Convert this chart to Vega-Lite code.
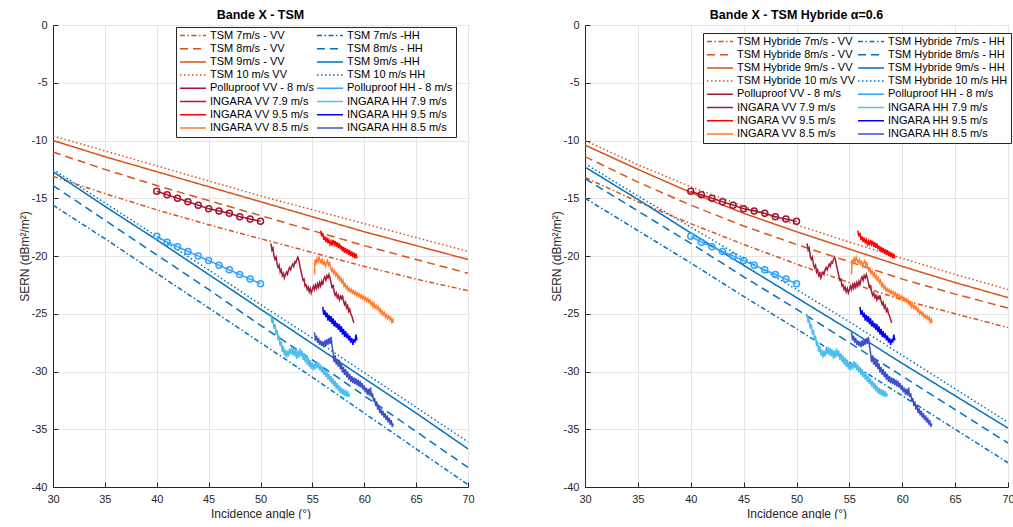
{
  "$schema": "https://vega.github.io/schema/vega-lite/v6.json",
  "background": "white",
  "padding": {"left": 18, "top": 8, "right": 0, "bottom": 0},
  "spacing": 117,
  "bounds": "flush",
  "config": {
    "view": {"stroke": null},
    "font": "Liberation Sans",
    "axis": {"labelFont": "Liberation Sans", "titleFont": "Liberation Sans", "labelFontSize": 11, "titleFontSize": 12, "titleFontWeight": "normal", "labelColor": "#262626", "titleColor": "#262626", "domainColor": "#262626", "tickColor": "#262626", "gridColor": "#E5E5E5", "gridWidth": 1, "tickSize": -5, "domainWidth": 1, "labelExpr": "toString(datum.value)"},
    "axisX": {"labelPadding": 11, "titlePadding": 4, "labelFlush": false},
    "axisY": {"labelPadding": 11, "titleX": -22, "titleY": 231, "titleAngle": -90, "titleBaseline": "bottom"},
    "title": {"font": "Liberation Sans", "fontSize": 12.5, "fontWeight": "bold", "color": "#000000", "offset": -2, "anchor": "middle"},
    "legend": {"labelFont": "Liberation Sans", "labelFontSize": 11, "labelColor": "#000000", "symbolSize": 676, "symbolStrokeWidth": 1.5, "clipHeight": 11, "rowPadding": 1.2, "columnPadding": 2, "padding": 3, "fillColor": "white", "strokeColor": "#262626", "labelOffset": 3}
  },
  "resolve": {"scale": {"color": "independent", "strokeDash": "independent"}, "legend": {"color": "independent", "strokeDash": "independent"}},
  "datasets": {
    "names": [
      {"k": "T7V", "s": "TSM 7m/s - VV"}, {"k": "T7H", "s": "TSM 7m/s -HH"},
      {"k": "T8V", "s": "TSM 8m/s - VV"}, {"k": "T8H", "s": "TSM 8m/s - HH"},
      {"k": "T9V", "s": "TSM 9m/s - VV"}, {"k": "T9H", "s": "TSM 9m/s -HH"},
      {"k": "T10V", "s": "TSM 10 m/s VV"}, {"k": "T10H", "s": "TSM 10 m/s HH"},
      {"k": "H7V", "s": "TSM Hybride 7m/s - VV"}, {"k": "H7H", "s": "TSM Hybride 7m/s - HH"},
      {"k": "H8V", "s": "TSM Hybride 8m/s - VV"}, {"k": "H8H", "s": "TSM Hybride 8m/s - HH"},
      {"k": "H9V", "s": "TSM Hybride 9m/s - VV"}, {"k": "H9H", "s": "TSM Hybride 9m/s - HH"},
      {"k": "H10V", "s": "TSM Hybride 10 m/s VV"}, {"k": "H10H", "s": "TSM Hybride 10 m/s HH"},
      {"k": "PV", "s": "Polluproof VV - 8 m/s"}, {"k": "PH", "s": "Polluproof HH - 8 m/s"},
      {"k": "IV79", "s": "INGARA VV 7.9 m/s"}, {"k": "IH79", "s": "INGARA HH 7.9 m/s"},
      {"k": "IV95", "s": "INGARA VV 9.5 m/s"}, {"k": "IH95", "s": "INGARA HH 9.5 m/s"},
      {"k": "IV85", "s": "INGARA VV 8.5 m/s"}, {"k": "IH85", "s": "INGARA HH 8.5 m/s"}
    ],
    "tsm": [
      {"k":"T7V","x":30,"y":-13.1},{"k":"T7V","x":35,"y":-14.6},{"k":"T7V","x":40,"y":-16.0},{"k":"T7V","x":45,"y":-17.3},{"k":"T7V","x":50,"y":-18.5},{"k":"T7V","x":55,"y":-19.7},{"k":"T7V","x":60,"y":-20.9},{"k":"T7V","x":65,"y":-22.0},{"k":"T7V","x":70,"y":-23.0},
      {"k":"T8V","x":30,"y":-11.0},{"k":"T8V","x":35,"y":-12.5},{"k":"T8V","x":40,"y":-13.9},{"k":"T8V","x":45,"y":-15.2},{"k":"T8V","x":50,"y":-16.5},{"k":"T8V","x":55,"y":-17.8},{"k":"T8V","x":60,"y":-19.1},{"k":"T8V","x":65,"y":-20.3},{"k":"T8V","x":70,"y":-21.5},
      {"k":"T9V","x":30,"y":-10.0},{"k":"T9V","x":35,"y":-11.4},{"k":"T9V","x":40,"y":-12.7},{"k":"T9V","x":45,"y":-14.0},{"k":"T9V","x":50,"y":-15.3},{"k":"T9V","x":55,"y":-16.6},{"k":"T9V","x":60,"y":-17.9},{"k":"T9V","x":65,"y":-19.1},{"k":"T9V","x":70,"y":-20.3},
      {"k":"T10V","x":30,"y":-9.6},{"k":"T10V","x":35,"y":-10.9},{"k":"T10V","x":40,"y":-12.2},{"k":"T10V","x":45,"y":-13.5},{"k":"T10V","x":50,"y":-14.8},{"k":"T10V","x":55,"y":-16.0},{"k":"T10V","x":60,"y":-17.2},{"k":"T10V","x":65,"y":-18.4},{"k":"T10V","x":70,"y":-19.6},
      {"k":"T7H","x":30,"y":-15.6},{"k":"T7H","x":35,"y":-18.5},{"k":"T7H","x":40,"y":-21.5},{"k":"T7H","x":45,"y":-24.5},{"k":"T7H","x":50,"y":-27.5},{"k":"T7H","x":55,"y":-30.5},{"k":"T7H","x":60,"y":-33.6},{"k":"T7H","x":65,"y":-36.7},{"k":"T7H","x":70,"y":-39.8},
      {"k":"T8H","x":30,"y":-13.9},{"k":"T8H","x":35,"y":-16.9},{"k":"T8H","x":40,"y":-19.9},{"k":"T8H","x":45,"y":-22.9},{"k":"T8H","x":50,"y":-26.0},{"k":"T8H","x":55,"y":-29.0},{"k":"T8H","x":60,"y":-32.1},{"k":"T8H","x":65,"y":-35.2},{"k":"T8H","x":70,"y":-38.3},
      {"k":"T9H","x":30,"y":-12.7},{"k":"T9H","x":35,"y":-15.7},{"k":"T9H","x":40,"y":-18.6},{"k":"T9H","x":45,"y":-21.6},{"k":"T9H","x":50,"y":-24.6},{"k":"T9H","x":55,"y":-27.6},{"k":"T9H","x":60,"y":-30.6},{"k":"T9H","x":65,"y":-33.6},{"k":"T9H","x":70,"y":-36.7},
      {"k":"T10H","x":30,"y":-12.5},{"k":"T10H","x":35,"y":-15.4},{"k":"T10H","x":40,"y":-18.3},{"k":"T10H","x":45,"y":-21.2},{"k":"T10H","x":50,"y":-24.2},{"k":"T10H","x":55,"y":-27.1},{"k":"T10H","x":60,"y":-30.1},{"k":"T10H","x":65,"y":-33.1},{"k":"T10H","x":70,"y":-36.1}
    ],
    "hyb": [
      {"k":"H7V","x":30,"y":-13.2},{"k":"H7V","x":35,"y":-15.3},{"k":"H7V","x":40,"y":-17.2},{"k":"H7V","x":45,"y":-19.0},{"k":"H7V","x":50,"y":-20.7},{"k":"H7V","x":55,"y":-22.3},{"k":"H7V","x":60,"y":-23.8},{"k":"H7V","x":65,"y":-25.0},{"k":"H7V","x":70,"y":-26.2},
      {"k":"H8V","x":30,"y":-11.4},{"k":"H8V","x":35,"y":-13.6},{"k":"H8V","x":40,"y":-15.6},{"k":"H8V","x":45,"y":-17.4},{"k":"H8V","x":50,"y":-19.0},{"k":"H8V","x":55,"y":-20.5},{"k":"H8V","x":60,"y":-22.0},{"k":"H8V","x":65,"y":-23.3},{"k":"H8V","x":70,"y":-24.5},
      {"k":"H9V","x":30,"y":-10.4},{"k":"H9V","x":35,"y":-12.5},{"k":"H9V","x":40,"y":-14.5},{"k":"H9V","x":45,"y":-16.3},{"k":"H9V","x":50,"y":-17.9},{"k":"H9V","x":55,"y":-19.4},{"k":"H9V","x":60,"y":-20.9},{"k":"H9V","x":65,"y":-22.3},{"k":"H9V","x":70,"y":-23.6},
      {"k":"H10V","x":30,"y":-10.0},{"k":"H10V","x":35,"y":-12.1},{"k":"H10V","x":40,"y":-14.0},{"k":"H10V","x":45,"y":-15.7},{"k":"H10V","x":50,"y":-17.3},{"k":"H10V","x":55,"y":-18.8},{"k":"H10V","x":60,"y":-20.2},{"k":"H10V","x":65,"y":-21.6},{"k":"H10V","x":70,"y":-22.9},
      {"k":"H7H","x":30,"y":-15.0},{"k":"H7H","x":35,"y":-17.8},{"k":"H7H","x":40,"y":-20.6},{"k":"H7H","x":45,"y":-23.5},{"k":"H7H","x":50,"y":-26.3},{"k":"H7H","x":55,"y":-29.2},{"k":"H7H","x":60,"y":-32.1},{"k":"H7H","x":65,"y":-35.0},{"k":"H7H","x":70,"y":-37.9},
      {"k":"H8H","x":30,"y":-13.3},{"k":"H8H","x":35,"y":-16.1},{"k":"H8H","x":40,"y":-18.9},{"k":"H8H","x":45,"y":-21.8},{"k":"H8H","x":50,"y":-24.6},{"k":"H8H","x":55,"y":-27.5},{"k":"H8H","x":60,"y":-30.4},{"k":"H8H","x":65,"y":-33.3},{"k":"H8H","x":70,"y":-36.2},
      {"k":"H9H","x":30,"y":-12.3},{"k":"H9H","x":35,"y":-15.1},{"k":"H9H","x":40,"y":-18.0},{"k":"H9H","x":45,"y":-20.8},{"k":"H9H","x":50,"y":-23.6},{"k":"H9H","x":55,"y":-26.4},{"k":"H9H","x":60,"y":-29.3},{"k":"H9H","x":65,"y":-32.1},{"k":"H9H","x":70,"y":-34.9},
      {"k":"H10H","x":30,"y":-12.0},{"k":"H10H","x":35,"y":-14.8},{"k":"H10H","x":40,"y":-17.5},{"k":"H10H","x":45,"y":-20.2},{"k":"H10H","x":50,"y":-22.9},{"k":"H10H","x":55,"y":-25.7},{"k":"H10H","x":60,"y":-28.6},{"k":"H10H","x":65,"y":-31.5},{"k":"H10H","x":70,"y":-34.4}
    ],
    "exp": [
      {"k":"PV","x":40,"y":-14.4},{"k":"PV","x":41,"y":-14.7},{"k":"PV","x":42,"y":-15.0},{"k":"PV","x":43,"y":-15.3},{"k":"PV","x":44,"y":-15.6},{"k":"PV","x":45,"y":-15.9},{"k":"PV","x":46,"y":-16.1},{"k":"PV","x":47,"y":-16.3},{"k":"PV","x":48,"y":-16.6},{"k":"PV","x":49,"y":-16.8},{"k":"PV","x":50,"y":-17.0},
      {"k":"PH","x":40,"y":-18.3},{"k":"PH","x":41,"y":-18.8},{"k":"PH","x":42,"y":-19.2},{"k":"PH","x":43,"y":-19.6},{"k":"PH","x":44,"y":-20.0},{"k":"PH","x":45,"y":-20.4},{"k":"PH","x":46,"y":-20.8},{"k":"PH","x":47,"y":-21.2},{"k":"PH","x":48,"y":-21.6},{"k":"PH","x":49,"y":-22.0},{"k":"PH","x":50,"y":-22.4},
      {"k":"IV79","x":51.0,"y":-18.9},{"k":"IV79","x":51.1,"y":-19.5},{"k":"IV79","x":51.2,"y":-19.3},{"k":"IV79","x":51.3,"y":-20.0},{"k":"IV79","x":51.4,"y":-20.3},{"k":"IV79","x":51.5,"y":-20.1},{"k":"IV79","x":51.6,"y":-20.7},{"k":"IV79","x":51.7,"y":-21.0},{"k":"IV79","x":51.8,"y":-20.8},{"k":"IV79","x":51.9,"y":-21.4},{"k":"IV79","x":52.0,"y":-21.2},{"k":"IV79","x":52.1,"y":-21.7},{"k":"IV79","x":52.2,"y":-21.5},{"k":"IV79","x":52.3,"y":-21.9},{"k":"IV79","x":52.4,"y":-21.6},{"k":"IV79","x":52.5,"y":-21.4},{"k":"IV79","x":52.6,"y":-21.6},{"k":"IV79","x":52.7,"y":-21.2},{"k":"IV79","x":52.8,"y":-21.0},{"k":"IV79","x":52.9,"y":-21.2},{"k":"IV79","x":53.0,"y":-20.9},{"k":"IV79","x":53.1,"y":-20.7},{"k":"IV79","x":53.2,"y":-20.9},{"k":"IV79","x":53.3,"y":-20.5},{"k":"IV79","x":53.4,"y":-20.6},{"k":"IV79","x":53.5,"y":-20.3},{"k":"IV79","x":53.6,"y":-20.1},{"k":"IV79","x":53.7,"y":-20.4},{"k":"IV79","x":53.8,"y":-20.9},{"k":"IV79","x":53.9,"y":-21.3},{"k":"IV79","x":54.0,"y":-21.7},{"k":"IV79","x":54.1,"y":-22.1},{"k":"IV79","x":54.2,"y":-22.0},{"k":"IV79","x":54.3,"y":-22.6},{"k":"IV79","x":54.4,"y":-22.5},{"k":"IV79","x":54.5,"y":-22.9},{"k":"IV79","x":54.6,"y":-22.7},{"k":"IV79","x":54.7,"y":-23.1},{"k":"IV79","x":54.8,"y":-22.8},{"k":"IV79","x":54.9,"y":-23.2},{"k":"IV79","x":55.0,"y":-22.9},{"k":"IV79","x":55.1,"y":-22.6},{"k":"IV79","x":55.2,"y":-22.9},{"k":"IV79","x":55.3,"y":-22.5},{"k":"IV79","x":55.4,"y":-22.8},{"k":"IV79","x":55.5,"y":-22.4},{"k":"IV79","x":55.6,"y":-22.7},{"k":"IV79","x":55.7,"y":-22.3},{"k":"IV79","x":55.8,"y":-22.6},{"k":"IV79","x":55.9,"y":-22.2},{"k":"IV79","x":56.0,"y":-22.5},{"k":"IV79","x":56.1,"y":-22.0},{"k":"IV79","x":56.2,"y":-21.8},{"k":"IV79","x":56.3,"y":-22.1},{"k":"IV79","x":56.4,"y":-21.7},{"k":"IV79","x":56.5,"y":-21.9},{"k":"IV79","x":56.6,"y":-21.6},{"k":"IV79","x":56.7,"y":-21.9},{"k":"IV79","x":56.8,"y":-22.3},{"k":"IV79","x":56.9,"y":-22.8},{"k":"IV79","x":57.0,"y":-22.5},{"k":"IV79","x":57.1,"y":-23.1},{"k":"IV79","x":57.2,"y":-23.4},{"k":"IV79","x":57.3,"y":-23.2},{"k":"IV79","x":57.4,"y":-23.6},{"k":"IV79","x":57.5,"y":-23.4},{"k":"IV79","x":57.6,"y":-23.8},{"k":"IV79","x":57.7,"y":-23.5},{"k":"IV79","x":57.8,"y":-23.7},{"k":"IV79","x":57.9,"y":-23.4},{"k":"IV79","x":58.0,"y":-23.9},{"k":"IV79","x":58.1,"y":-24.2},{"k":"IV79","x":58.2,"y":-24.0},{"k":"IV79","x":58.3,"y":-24.5},{"k":"IV79","x":58.4,"y":-24.3},{"k":"IV79","x":58.5,"y":-24.8},{"k":"IV79","x":58.6,"y":-24.6},{"k":"IV79","x":58.7,"y":-25.0},{"k":"IV79","x":58.8,"y":-25.2},{"k":"IV79","x":58.9,"y":-25.5},{"k":"IV79","x":59.0,"y":-25.8},
      {"k":"IV95","x":55.8,"y":-17.8},{"k":"IV95","x":55.9,"y":-18.3},{"k":"IV95","x":56.0,"y":-18.0},{"k":"IV95","x":56.1,"y":-18.6},{"k":"IV95","x":56.2,"y":-18.3},{"k":"IV95","x":56.3,"y":-18.8},{"k":"IV95","x":56.4,"y":-18.4},{"k":"IV95","x":56.5,"y":-18.9},{"k":"IV95","x":56.6,"y":-18.6},{"k":"IV95","x":56.7,"y":-19.0},{"k":"IV95","x":56.8,"y":-18.7},{"k":"IV95","x":56.9,"y":-19.1},{"k":"IV95","x":57.0,"y":-18.6},{"k":"IV95","x":57.1,"y":-19.0},{"k":"IV95","x":57.2,"y":-18.7},{"k":"IV95","x":57.3,"y":-19.2},{"k":"IV95","x":57.4,"y":-18.8},{"k":"IV95","x":57.5,"y":-19.3},{"k":"IV95","x":57.6,"y":-18.9},{"k":"IV95","x":57.7,"y":-19.4},{"k":"IV95","x":57.8,"y":-19.1},{"k":"IV95","x":57.9,"y":-19.6},{"k":"IV95","x":58.0,"y":-19.2},{"k":"IV95","x":58.1,"y":-19.7},{"k":"IV95","x":58.2,"y":-19.3},{"k":"IV95","x":58.3,"y":-19.8},{"k":"IV95","x":58.4,"y":-19.4},{"k":"IV95","x":58.5,"y":-19.9},{"k":"IV95","x":58.6,"y":-19.5},{"k":"IV95","x":58.7,"y":-20.0},{"k":"IV95","x":58.8,"y":-19.6},{"k":"IV95","x":58.9,"y":-20.1},{"k":"IV95","x":59.0,"y":-19.7},{"k":"IV95","x":59.1,"y":-20.2},{"k":"IV95","x":59.2,"y":-19.8},{"k":"IV95","x":59.3,"y":-20.2},
      {"k":"IV85","x":55.2,"y":-21.6},{"k":"IV85","x":55.25,"y":-20.3},{"k":"IV85","x":55.35,"y":-20.6},{"k":"IV85","x":55.45,"y":-20.2},{"k":"IV85","x":55.55,"y":-20.5},{"k":"IV85","x":55.65,"y":-20.1},{"k":"IV85","x":55.75,"y":-20.4},{"k":"IV85","x":55.85,"y":-20.6},{"k":"IV85","x":55.95,"y":-20.3},{"k":"IV85","x":56.05,"y":-20.7},{"k":"IV85","x":56.15,"y":-20.5},{"k":"IV85","x":56.25,"y":-20.9},{"k":"IV85","x":56.35,"y":-20.6},{"k":"IV85","x":56.45,"y":-20.4},{"k":"IV85","x":56.55,"y":-20.8},{"k":"IV85","x":56.65,"y":-20.6},{"k":"IV85","x":56.75,"y":-21.0},{"k":"IV85","x":56.85,"y":-21.3},{"k":"IV85","x":56.95,"y":-21.1},{"k":"IV85","x":57.05,"y":-21.5},{"k":"IV85","x":57.15,"y":-21.3},{"k":"IV85","x":57.25,"y":-21.7},{"k":"IV85","x":57.35,"y":-21.5},{"k":"IV85","x":57.45,"y":-21.9},{"k":"IV85","x":57.55,"y":-21.7},{"k":"IV85","x":57.65,"y":-22.1},{"k":"IV85","x":57.75,"y":-21.9},{"k":"IV85","x":57.85,"y":-22.3},{"k":"IV85","x":57.95,"y":-22.1},{"k":"IV85","x":58.05,"y":-22.6},{"k":"IV85","x":58.15,"y":-22.4},{"k":"IV85","x":58.25,"y":-22.8},{"k":"IV85","x":58.35,"y":-22.6},{"k":"IV85","x":58.45,"y":-23.0},{"k":"IV85","x":58.55,"y":-22.8},{"k":"IV85","x":58.65,"y":-23.1},{"k":"IV85","x":58.75,"y":-22.9},{"k":"IV85","x":58.85,"y":-23.2},{"k":"IV85","x":58.95,"y":-23.0},{"k":"IV85","x":59.05,"y":-23.3},{"k":"IV85","x":59.15,"y":-23.1},{"k":"IV85","x":59.25,"y":-23.4},{"k":"IV85","x":59.35,"y":-23.2},{"k":"IV85","x":59.45,"y":-23.5},{"k":"IV85","x":59.55,"y":-23.3},{"k":"IV85","x":59.65,"y":-23.6},{"k":"IV85","x":59.75,"y":-23.4},{"k":"IV85","x":59.85,"y":-23.7},{"k":"IV85","x":59.95,"y":-23.5},{"k":"IV85","x":60.05,"y":-23.8},{"k":"IV85","x":60.15,"y":-23.6},{"k":"IV85","x":60.25,"y":-23.9},{"k":"IV85","x":60.35,"y":-23.7},{"k":"IV85","x":60.45,"y":-24.0},{"k":"IV85","x":60.55,"y":-23.8},{"k":"IV85","x":60.65,"y":-24.2},{"k":"IV85","x":60.75,"y":-24.0},{"k":"IV85","x":60.85,"y":-24.4},{"k":"IV85","x":60.95,"y":-24.1},{"k":"IV85","x":61.05,"y":-24.5},{"k":"IV85","x":61.15,"y":-24.3},{"k":"IV85","x":61.25,"y":-24.6},{"k":"IV85","x":61.35,"y":-24.4},{"k":"IV85","x":61.45,"y":-24.8},{"k":"IV85","x":61.55,"y":-24.6},{"k":"IV85","x":61.65,"y":-25.0},{"k":"IV85","x":61.75,"y":-24.8},{"k":"IV85","x":61.85,"y":-25.1},{"k":"IV85","x":61.95,"y":-24.9},{"k":"IV85","x":62.05,"y":-25.3},{"k":"IV85","x":62.15,"y":-25.1},{"k":"IV85","x":62.25,"y":-25.4},{"k":"IV85","x":62.35,"y":-25.2},{"k":"IV85","x":62.45,"y":-25.5},{"k":"IV85","x":62.55,"y":-25.3},{"k":"IV85","x":62.65,"y":-25.7},{"k":"IV85","x":62.75,"y":-25.5},{"k":"IV85","x":62.8,"y":-25.8},
      {"k":"IH79","x":51.0,"y":-25.0},{"k":"IH79","x":51.1,"y":-25.8},{"k":"IH79","x":51.2,"y":-25.4},{"k":"IH79","x":51.3,"y":-26.3},{"k":"IH79","x":51.4,"y":-25.9},{"k":"IH79","x":51.5,"y":-26.8},{"k":"IH79","x":51.6,"y":-26.4},{"k":"IH79","x":51.7,"y":-27.3},{"k":"IH79","x":51.8,"y":-26.9},{"k":"IH79","x":51.9,"y":-27.8},{"k":"IH79","x":52.0,"y":-27.4},{"k":"IH79","x":52.1,"y":-28.3},{"k":"IH79","x":52.2,"y":-27.8},{"k":"IH79","x":52.3,"y":-28.6},{"k":"IH79","x":52.4,"y":-28.1},{"k":"IH79","x":52.5,"y":-28.8},{"k":"IH79","x":52.6,"y":-28.2},{"k":"IH79","x":52.7,"y":-28.7},{"k":"IH79","x":52.8,"y":-28.0},{"k":"IH79","x":52.9,"y":-28.5},{"k":"IH79","x":53.0,"y":-27.9},{"k":"IH79","x":53.1,"y":-28.6},{"k":"IH79","x":53.2,"y":-28.0},{"k":"IH79","x":53.3,"y":-28.7},{"k":"IH79","x":53.4,"y":-28.1},{"k":"IH79","x":53.5,"y":-28.9},{"k":"IH79","x":53.6,"y":-28.2},{"k":"IH79","x":53.7,"y":-28.8},{"k":"IH79","x":53.8,"y":-28.0},{"k":"IH79","x":53.9,"y":-28.7},{"k":"IH79","x":54.0,"y":-28.2},{"k":"IH79","x":54.1,"y":-29.0},{"k":"IH79","x":54.2,"y":-28.4},{"k":"IH79","x":54.3,"y":-29.2},{"k":"IH79","x":54.4,"y":-28.6},{"k":"IH79","x":54.5,"y":-29.4},{"k":"IH79","x":54.6,"y":-28.8},{"k":"IH79","x":54.7,"y":-29.6},{"k":"IH79","x":54.8,"y":-29.0},{"k":"IH79","x":54.9,"y":-29.8},{"k":"IH79","x":55.0,"y":-29.2},{"k":"IH79","x":55.1,"y":-29.9},{"k":"IH79","x":55.2,"y":-29.3},{"k":"IH79","x":55.3,"y":-29.8},{"k":"IH79","x":55.4,"y":-29.1},{"k":"IH79","x":55.5,"y":-29.7},{"k":"IH79","x":55.6,"y":-29.2},{"k":"IH79","x":55.7,"y":-29.9},{"k":"IH79","x":55.8,"y":-29.4},{"k":"IH79","x":55.9,"y":-30.1},{"k":"IH79","x":56.0,"y":-29.6},{"k":"IH79","x":56.1,"y":-30.3},{"k":"IH79","x":56.2,"y":-29.8},{"k":"IH79","x":56.3,"y":-30.5},{"k":"IH79","x":56.4,"y":-30.0},{"k":"IH79","x":56.5,"y":-30.7},{"k":"IH79","x":56.6,"y":-30.2},{"k":"IH79","x":56.7,"y":-30.9},{"k":"IH79","x":56.8,"y":-30.4},{"k":"IH79","x":56.9,"y":-31.1},{"k":"IH79","x":57.0,"y":-30.6},{"k":"IH79","x":57.1,"y":-31.3},{"k":"IH79","x":57.2,"y":-30.8},{"k":"IH79","x":57.3,"y":-31.5},{"k":"IH79","x":57.4,"y":-31.0},{"k":"IH79","x":57.5,"y":-31.7},{"k":"IH79","x":57.6,"y":-31.2},{"k":"IH79","x":57.7,"y":-31.9},{"k":"IH79","x":57.8,"y":-31.4},{"k":"IH79","x":57.9,"y":-32.0},{"k":"IH79","x":58.0,"y":-31.5},{"k":"IH79","x":58.1,"y":-32.1},{"k":"IH79","x":58.2,"y":-31.6},{"k":"IH79","x":58.3,"y":-32.2},{"k":"IH79","x":58.4,"y":-31.7},{"k":"IH79","x":58.5,"y":-32.2},{"k":"IH79","x":58.6,"y":-31.9},
      {"k":"IH95","x":56.0,"y":-24.4},{"k":"IH95","x":56.1,"y":-25.1},{"k":"IH95","x":56.2,"y":-24.7},{"k":"IH95","x":56.3,"y":-25.3},{"k":"IH95","x":56.4,"y":-24.9},{"k":"IH95","x":56.5,"y":-25.6},{"k":"IH95","x":56.6,"y":-25.1},{"k":"IH95","x":56.7,"y":-25.7},{"k":"IH95","x":56.8,"y":-25.2},{"k":"IH95","x":56.9,"y":-25.9},{"k":"IH95","x":57.0,"y":-25.4},{"k":"IH95","x":57.1,"y":-26.1},{"k":"IH95","x":57.2,"y":-25.6},{"k":"IH95","x":57.3,"y":-26.2},{"k":"IH95","x":57.4,"y":-25.8},{"k":"IH95","x":57.5,"y":-26.4},{"k":"IH95","x":57.6,"y":-25.9},{"k":"IH95","x":57.7,"y":-26.6},{"k":"IH95","x":57.8,"y":-26.1},{"k":"IH95","x":57.9,"y":-26.8},{"k":"IH95","x":58.0,"y":-26.3},{"k":"IH95","x":58.1,"y":-27.0},{"k":"IH95","x":58.2,"y":-26.5},{"k":"IH95","x":58.3,"y":-27.1},{"k":"IH95","x":58.4,"y":-26.7},{"k":"IH95","x":58.5,"y":-27.3},{"k":"IH95","x":58.6,"y":-26.9},{"k":"IH95","x":58.7,"y":-27.5},{"k":"IH95","x":58.8,"y":-27.1},{"k":"IH95","x":58.9,"y":-27.7},{"k":"IH95","x":59.0,"y":-27.2},{"k":"IH95","x":59.1,"y":-27.5},{"k":"IH95","x":59.2,"y":-26.8},{"k":"IH95","x":59.3,"y":-27.3},
      {"k":"IH85","x":55.2,"y":-26.6},{"k":"IH85","x":55.3,"y":-27.3},{"k":"IH85","x":55.4,"y":-26.9},{"k":"IH85","x":55.5,"y":-27.5},{"k":"IH85","x":55.6,"y":-27.1},{"k":"IH85","x":55.7,"y":-27.7},{"k":"IH85","x":55.8,"y":-27.3},{"k":"IH85","x":55.9,"y":-27.8},{"k":"IH85","x":56.0,"y":-27.4},{"k":"IH85","x":56.1,"y":-27.9},{"k":"IH85","x":56.2,"y":-27.3},{"k":"IH85","x":56.3,"y":-27.8},{"k":"IH85","x":56.4,"y":-27.2},{"k":"IH85","x":56.5,"y":-27.7},{"k":"IH85","x":56.6,"y":-27.1},{"k":"IH85","x":56.7,"y":-27.6},{"k":"IH85","x":56.8,"y":-27.0},{"k":"IH85","x":56.9,"y":-27.8},{"k":"IH85","x":57.0,"y":-28.4},{"k":"IH85","x":57.1,"y":-29.2},{"k":"IH85","x":57.2,"y":-28.6},{"k":"IH85","x":57.3,"y":-29.4},{"k":"IH85","x":57.4,"y":-28.9},{"k":"IH85","x":57.5,"y":-29.6},{"k":"IH85","x":57.6,"y":-29.0},{"k":"IH85","x":57.7,"y":-29.8},{"k":"IH85","x":57.8,"y":-29.3},{"k":"IH85","x":57.9,"y":-30.1},{"k":"IH85","x":58.0,"y":-29.6},{"k":"IH85","x":58.1,"y":-30.3},{"k":"IH85","x":58.2,"y":-29.8},{"k":"IH85","x":58.3,"y":-30.5},{"k":"IH85","x":58.4,"y":-30.0},{"k":"IH85","x":58.5,"y":-30.7},{"k":"IH85","x":58.6,"y":-30.2},{"k":"IH85","x":58.7,"y":-30.9},{"k":"IH85","x":58.8,"y":-30.4},{"k":"IH85","x":58.9,"y":-31.0},{"k":"IH85","x":59.0,"y":-30.5},{"k":"IH85","x":59.1,"y":-31.1},{"k":"IH85","x":59.2,"y":-30.6},{"k":"IH85","x":59.3,"y":-31.2},{"k":"IH85","x":59.4,"y":-30.7},{"k":"IH85","x":59.5,"y":-31.3},{"k":"IH85","x":59.6,"y":-30.8},{"k":"IH85","x":59.7,"y":-31.4},{"k":"IH85","x":59.8,"y":-31.0},{"k":"IH85","x":59.9,"y":-31.6},{"k":"IH85","x":60.0,"y":-31.2},{"k":"IH85","x":60.1,"y":-31.8},{"k":"IH85","x":60.2,"y":-31.4},{"k":"IH85","x":60.3,"y":-32.0},{"k":"IH85","x":60.4,"y":-31.5},{"k":"IH85","x":60.5,"y":-32.1},{"k":"IH85","x":60.6,"y":-31.4},{"k":"IH85","x":60.7,"y":-32.2},{"k":"IH85","x":60.8,"y":-31.9},{"k":"IH85","x":60.9,"y":-32.6},{"k":"IH85","x":61.0,"y":-32.3},{"k":"IH85","x":61.1,"y":-33.0},{"k":"IH85","x":61.2,"y":-32.6},{"k":"IH85","x":61.3,"y":-33.3},{"k":"IH85","x":61.4,"y":-32.9},{"k":"IH85","x":61.5,"y":-33.6},{"k":"IH85","x":61.6,"y":-33.2},{"k":"IH85","x":61.7,"y":-33.8},{"k":"IH85","x":61.8,"y":-33.4},{"k":"IH85","x":61.9,"y":-34.0},{"k":"IH85","x":62.0,"y":-33.6},{"k":"IH85","x":62.1,"y":-34.2},{"k":"IH85","x":62.2,"y":-33.8},{"k":"IH85","x":62.3,"y":-34.4},{"k":"IH85","x":62.4,"y":-34.0},{"k":"IH85","x":62.5,"y":-34.6},{"k":"IH85","x":62.6,"y":-34.2},{"k":"IH85","x":62.7,"y":-34.8},{"k":"IH85","x":62.8,"y":-34.5}
    ]
  },
  "hconcat": [
    {
      "width": 415,
      "height": 462,
      "title": "Bande X - TSM",
      "layer": [
        {
          "data": {"name": "tsm"},
          "transform": [{"lookup": "k", "from": {"data": {"name": "names"}, "key": "k", "fields": ["s"]}}],
          "mark": {"type": "line", "strokeWidth": 1.5},
          "encoding": {
            "x": {"field": "x", "type": "quantitative", "scale": {"domain": [30, 70], "nice": false, "zero": false}, "axis": {"values": [30, 35, 40, 45, 50, 55, 60, 65, 70], "title": "Incidence angle (°)"}},
            "y": {"field": "y", "type": "quantitative", "scale": {"domain": [-40, 0], "nice": false}, "axis": {"values": [-40, -35, -30, -25, -20, -15, -10, -5, 0], "title": "SERN (dBm²/m²)"}},
            "color": {"field": "s", "type": "nominal", "scale": {"domain": ["TSM 7m/s - VV", "TSM 8m/s - VV", "TSM 9m/s - VV", "TSM 10 m/s VV", "Polluproof VV - 8 m/s", "INGARA VV 7.9 m/s", "INGARA VV 9.5 m/s", "INGARA VV 8.5 m/s", "TSM 7m/s -HH", "TSM 8m/s - HH", "TSM 9m/s -HH", "TSM 10 m/s HH", "Polluproof HH - 8 m/s", "INGARA HH 7.9 m/s", "INGARA HH 9.5 m/s", "INGARA HH 8.5 m/s"], "range": ["#D95319", "#D95319", "#D95319", "#D95319", "#A2142F", "#A51C37", "#FF0000", "#FF7A2A", "#0072BD", "#0072BD", "#0072BD", "#0072BD", "#30A2FF", "#4DBEEE", "#0000FF", "#3F4FC9"]}, "legend": {"title": null, "orient": "none", "legendX": 123, "legendY": 2, "columns": 2, "symbolType": "stroke"}},
            "strokeDash": {"field": "s", "type": "nominal", "scale": {"domain": ["TSM 7m/s - VV", "TSM 8m/s - VV", "TSM 9m/s - VV", "TSM 10 m/s VV", "Polluproof VV - 8 m/s", "INGARA VV 7.9 m/s", "INGARA VV 9.5 m/s", "INGARA VV 8.5 m/s", "TSM 7m/s -HH", "TSM 8m/s - HH", "TSM 9m/s -HH", "TSM 10 m/s HH", "Polluproof HH - 8 m/s", "INGARA HH 7.9 m/s", "INGARA HH 9.5 m/s", "INGARA HH 8.5 m/s"], "range": [[5, 2.5, 1.5, 2.5], [8, 5], [1, 0], [1.5, 2.5], [1, 0], [1, 0], [1, 0], [1, 0], [5, 2.5, 1.5, 2.5], [8, 5], [1, 0], [1.5, 2.5], [1, 0], [1, 0], [1, 0], [1, 0]]}, "legend": {"title": null, "orient": "none", "legendX": 123, "legendY": 2, "columns": 2, "symbolType": "stroke"}}
          }
        },
        {
          "data": {"name": "exp"},
          "transform": [{"lookup": "k", "from": {"data": {"name": "names"}, "key": "k", "fields": ["s"]}}],
          "mark": {"type": "line", "strokeWidth": 1.5},
          "encoding": {
            "x": {"field": "x", "type": "quantitative"},
            "y": {"field": "y", "type": "quantitative"},
            "color": {"field": "s", "type": "nominal", "legend": {"title": null, "orient": "none", "legendX": 123, "legendY": 2, "columns": 2, "symbolType": "stroke"}},
            "strokeDash": {"field": "s", "type": "nominal", "legend": {"title": null, "orient": "none", "legendX": 123, "legendY": 2, "columns": 2, "symbolType": "stroke"}}
          }
        },
        {
          "data": {"name": "exp"},
          "transform": [{"filter": "datum.k == 'PV' || datum.k == 'PH'"}, {"lookup": "k", "from": {"data": {"name": "names"}, "key": "k", "fields": ["s"]}}],
          "mark": {"type": "point", "filled": false, "size": 36, "strokeWidth": 1.5, "opacity": 1},
          "encoding": {
            "x": {"field": "x", "type": "quantitative"},
            "y": {"field": "y", "type": "quantitative"},
            "color": {"field": "s", "type": "nominal", "legend": {"title": null, "orient": "none", "legendX": 123, "legendY": 2, "columns": 2, "symbolType": "stroke"}}
          }
        }
      ]
    },
    {
      "width": 423,
      "height": 462,
      "title": "Bande X - TSM Hybride α=0.6",
      "layer": [
        {
          "data": {"name": "hyb"},
          "transform": [{"lookup": "k", "from": {"data": {"name": "names"}, "key": "k", "fields": ["s"]}}],
          "mark": {"type": "line", "strokeWidth": 1.5},
          "encoding": {
            "x": {"field": "x", "type": "quantitative", "scale": {"domain": [30, 70], "nice": false, "zero": false}, "axis": {"values": [30, 35, 40, 45, 50, 55, 60, 65, 70], "title": "Incidence angle (°)"}},
            "y": {"field": "y", "type": "quantitative", "scale": {"domain": [-40, 0], "nice": false}, "axis": {"values": [-40, -35, -30, -25, -20, -15, -10, -5, 0], "title": "SERN (dBm²/m²)"}},
            "color": {"field": "s", "type": "nominal", "scale": {"domain": ["TSM Hybride 7m/s - VV", "TSM Hybride 8m/s - VV", "TSM Hybride 9m/s - VV", "TSM Hybride 10 m/s VV", "Polluproof VV - 8 m/s", "INGARA VV 7.9 m/s", "INGARA VV 9.5 m/s", "INGARA VV 8.5 m/s", "TSM Hybride 7m/s - HH", "TSM Hybride 8m/s - HH", "TSM Hybride 9m/s - HH", "TSM Hybride 10 m/s HH", "Polluproof HH - 8 m/s", "INGARA HH 7.9 m/s", "INGARA HH 9.5 m/s", "INGARA HH 8.5 m/s"], "range": ["#D95319", "#D95319", "#D95319", "#D95319", "#A2142F", "#A51C37", "#FF0000", "#FF7A2A", "#0072BD", "#0072BD", "#0072BD", "#0072BD", "#30A2FF", "#4DBEEE", "#0000FF", "#3F4FC9"]}, "legend": {"title": null, "orient": "none", "legendX": 118, "legendY": 8, "columns": 2, "symbolType": "stroke"}},
            "strokeDash": {"field": "s", "type": "nominal", "scale": {"domain": ["TSM Hybride 7m/s - VV", "TSM Hybride 8m/s - VV", "TSM Hybride 9m/s - VV", "TSM Hybride 10 m/s VV", "Polluproof VV - 8 m/s", "INGARA VV 7.9 m/s", "INGARA VV 9.5 m/s", "INGARA VV 8.5 m/s", "TSM Hybride 7m/s - HH", "TSM Hybride 8m/s - HH", "TSM Hybride 9m/s - HH", "TSM Hybride 10 m/s HH", "Polluproof HH - 8 m/s", "INGARA HH 7.9 m/s", "INGARA HH 9.5 m/s", "INGARA HH 8.5 m/s"], "range": [[5, 2.5, 1.5, 2.5], [8, 5], [1, 0], [1.5, 2.5], [1, 0], [1, 0], [1, 0], [1, 0], [5, 2.5, 1.5, 2.5], [8, 5], [1, 0], [1.5, 2.5], [1, 0], [1, 0], [1, 0], [1, 0]]}, "legend": {"title": null, "orient": "none", "legendX": 118, "legendY": 8, "columns": 2, "symbolType": "stroke"}}
          }
        },
        {
          "data": {"name": "exp"},
          "transform": [{"lookup": "k", "from": {"data": {"name": "names"}, "key": "k", "fields": ["s"]}}],
          "mark": {"type": "line", "strokeWidth": 1.5},
          "encoding": {
            "x": {"field": "x", "type": "quantitative"},
            "y": {"field": "y", "type": "quantitative"},
            "color": {"field": "s", "type": "nominal", "legend": {"title": null, "orient": "none", "legendX": 118, "legendY": 8, "columns": 2, "symbolType": "stroke"}},
            "strokeDash": {"field": "s", "type": "nominal", "legend": {"title": null, "orient": "none", "legendX": 118, "legendY": 8, "columns": 2, "symbolType": "stroke"}}
          }
        },
        {
          "data": {"name": "exp"},
          "transform": [{"filter": "datum.k == 'PV' || datum.k == 'PH'"}, {"lookup": "k", "from": {"data": {"name": "names"}, "key": "k", "fields": ["s"]}}],
          "mark": {"type": "point", "filled": false, "size": 36, "strokeWidth": 1.5, "opacity": 1},
          "encoding": {
            "x": {"field": "x", "type": "quantitative"},
            "y": {"field": "y", "type": "quantitative"},
            "color": {"field": "s", "type": "nominal", "legend": {"title": null, "orient": "none", "legendX": 118, "legendY": 8, "columns": 2, "symbolType": "stroke"}}
          }
        }
      ]
    }
  ]
}
